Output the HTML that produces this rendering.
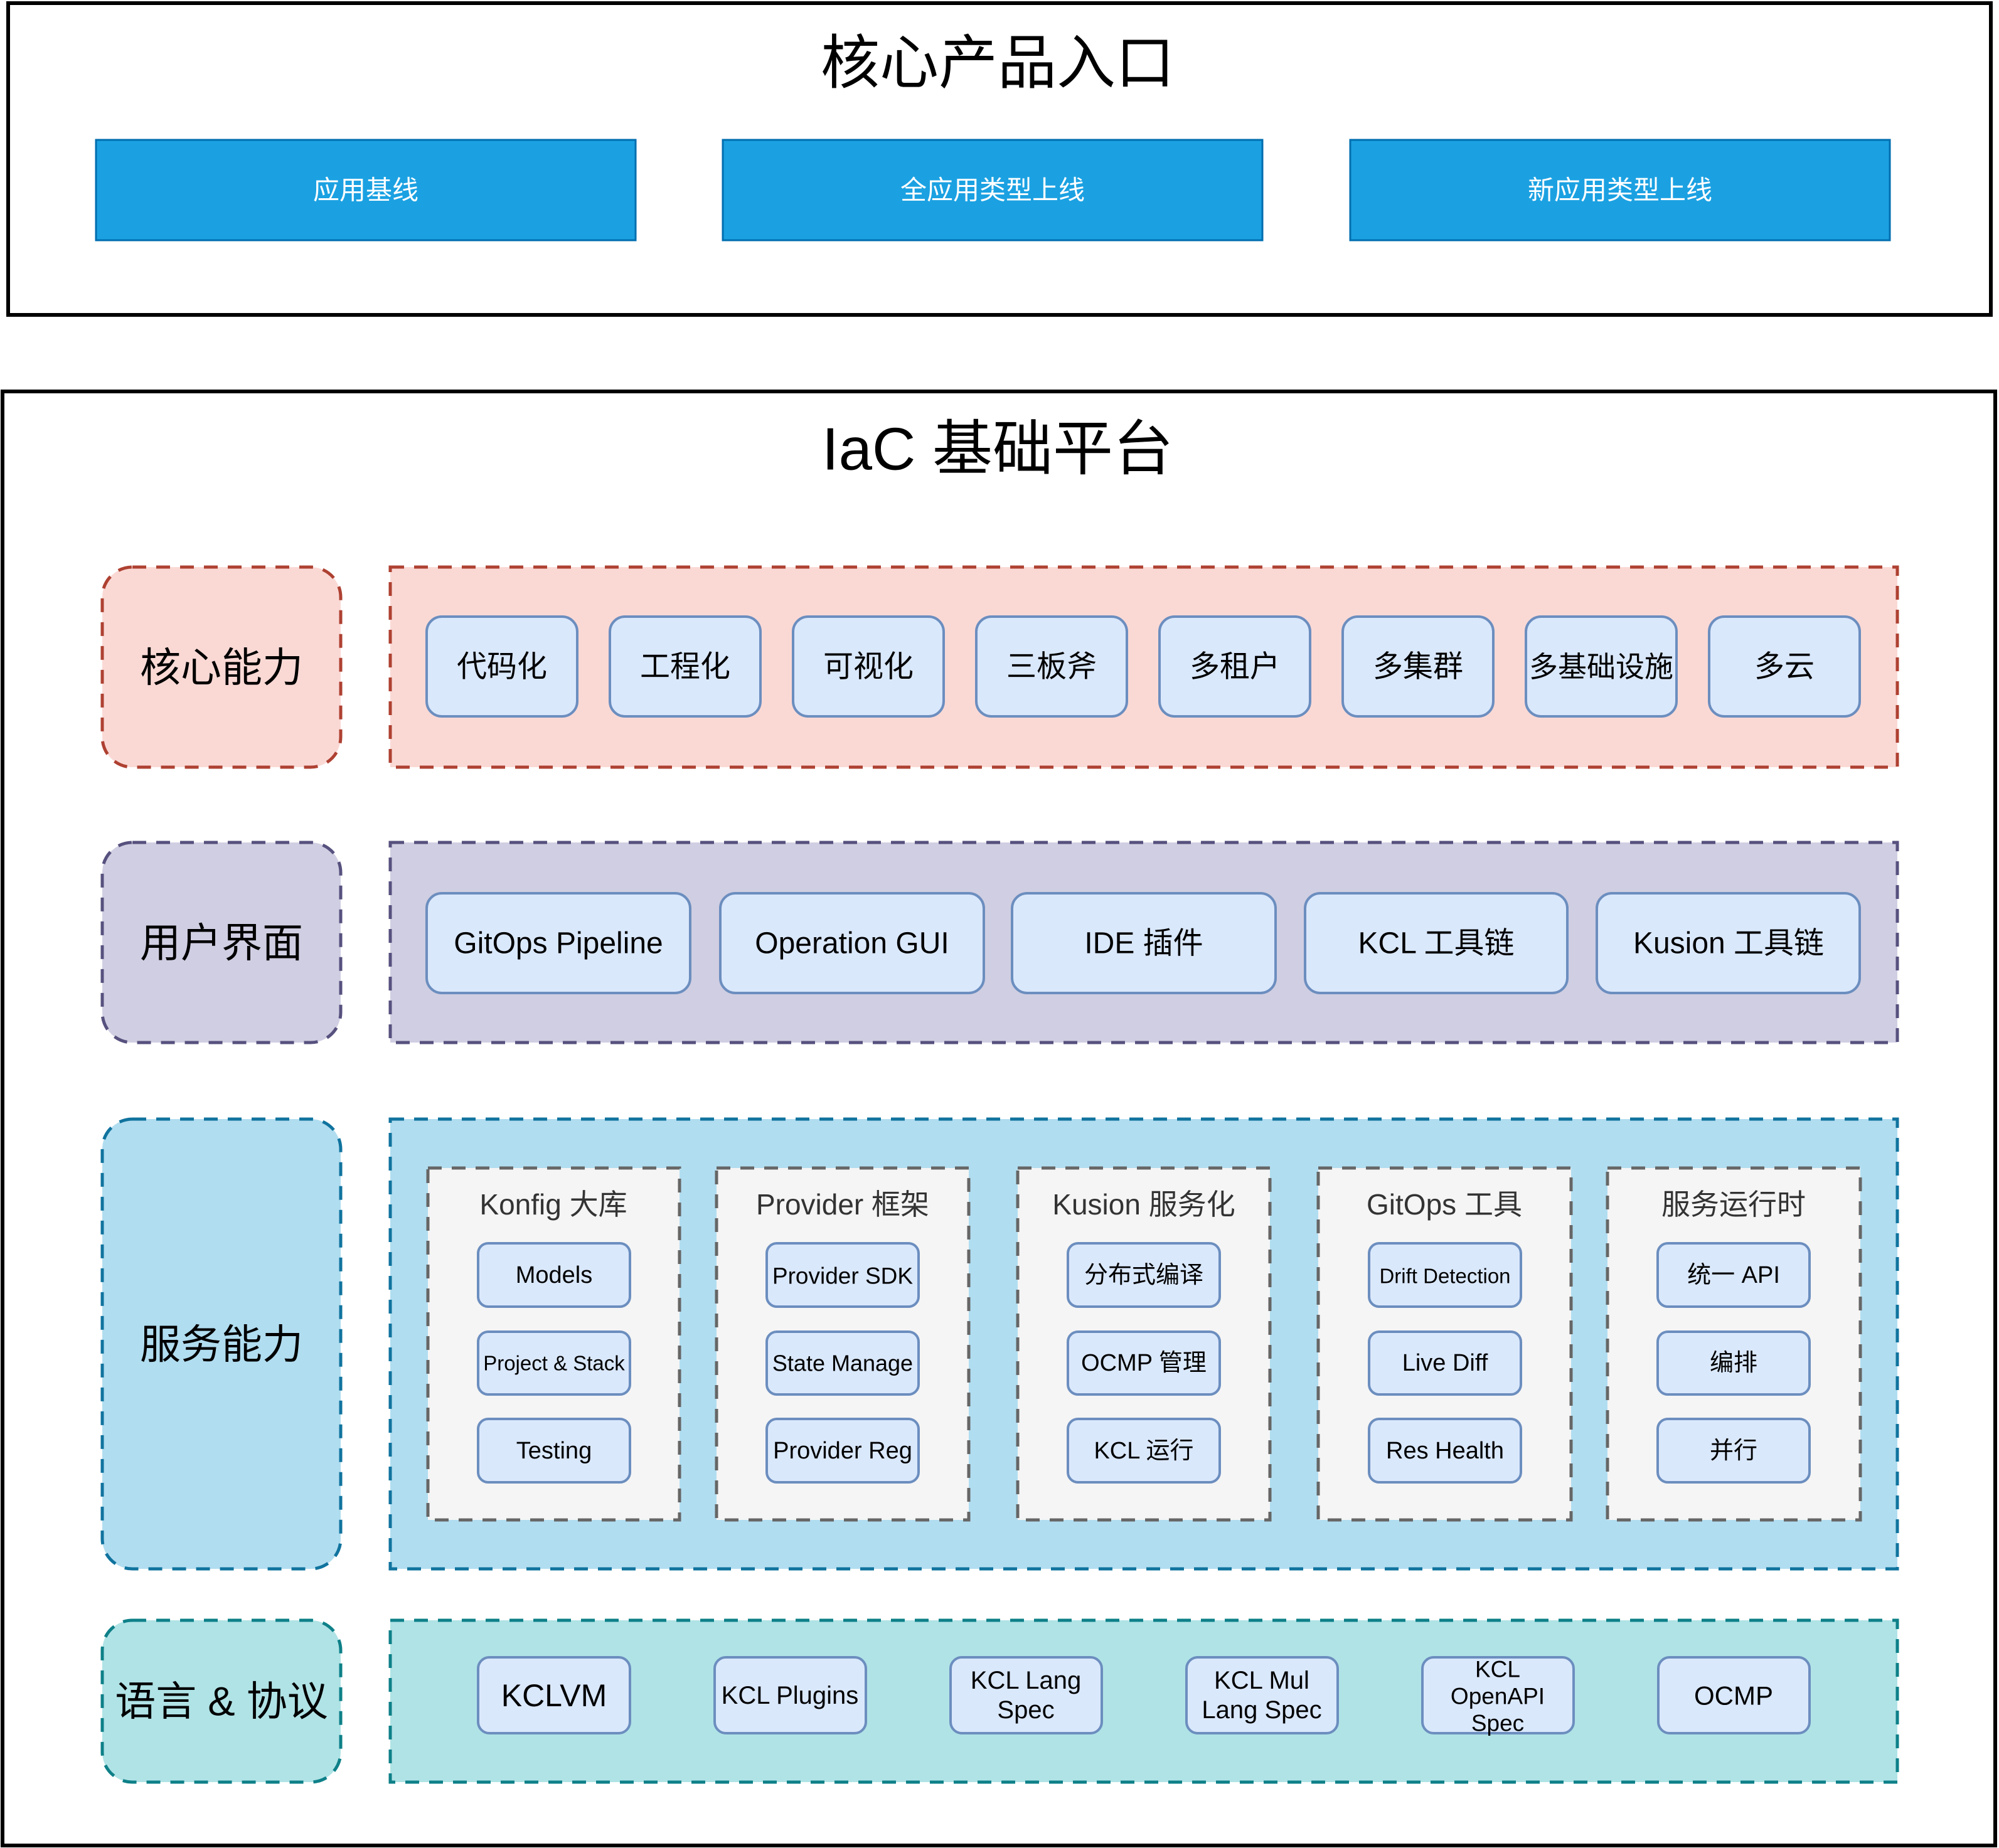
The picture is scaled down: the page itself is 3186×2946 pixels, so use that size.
<!DOCTYPE html>
<html><head><meta charset="utf-8"><style>
html,body{margin:0;padding:0;background:#fff;}
svg{display:block;}
text{font-family:"Liberation Sans","Noto Sans CJK SC",sans-serif;}
</style></head><body>
<svg width="3186" height="2946" viewBox="0 0 3186 2946" xmlns="http://www.w3.org/2000/svg">
<!-- top box -->
<rect x="13" y="5" width="3160" height="497" fill="#fff" stroke="#000" stroke-width="6"/>
<text x="1590" y="100" font-size="94" text-anchor="middle" dominant-baseline="central" fill="#000">核心产品入口</text>
<g fill="#1ba1e2" stroke="#006eaf" stroke-width="3">
<rect x="153" y="223" width="860" height="160"/>
<rect x="1152" y="223" width="860" height="160"/>
<rect x="2152" y="223" width="860" height="160"/>
</g>
<g font-size="42" fill="#fff" text-anchor="middle" dominant-baseline="central">
<text x="583" y="303">应用基线</text>
<text x="1582" y="303">全应用类型上线</text>
<text x="2582" y="303">新应用类型上线</text>
</g>
<!-- bottom box -->
<rect x="4" y="624" width="3176" height="2318" fill="#fff" stroke="#000" stroke-width="6"/>
<text x="1590" y="716" font-size="96" text-anchor="middle" dominant-baseline="central" fill="#000">IaC 基础平台</text>

<g stroke-width="5" stroke-dasharray="22 16">
<!-- core -->
<rect x="163" y="904" width="380" height="319" rx="48" fill="#fad9d5" stroke="#ae4132"/>
<rect x="622" y="904" width="2402" height="319" fill="#fad9d5" stroke="#ae4132"/>
<!-- ui -->
<rect x="163" y="1343" width="380" height="319" rx="48" fill="#d0cee2" stroke="#56517e"/>
<rect x="622" y="1343" width="2402" height="319" fill="#d0cee2" stroke="#56517e"/>
<!-- service -->
<rect x="163" y="1784" width="380" height="717" rx="48" fill="#b1ddf0" stroke="#10739e"/>
<rect x="622" y="1784" width="2402" height="717" fill="#b1ddf0" stroke="#10739e"/>
<!-- lang -->
<rect x="163" y="2583" width="380" height="258" rx="48" fill="#b0e3e6" stroke="#0e8088"/>
<rect x="622" y="2583" width="2402" height="258" fill="#b0e3e6" stroke="#0e8088"/>
</g>
<g font-size="65" fill="#000" text-anchor="middle" dominant-baseline="central">
<text x="353" y="1064">核心能力</text>
<text x="353" y="1503">用户界面</text>
<text x="353" y="2143">服务能力</text>
<text x="353" y="2712">语言 &amp; 协议</text>
</g>

<!-- core items -->
<g fill="#dae8fc" stroke="#6c8ebf" stroke-width="4">
<rect x="680" y="983" width="240" height="159" rx="24"/>
<rect x="972" y="983" width="240" height="159" rx="24"/>
<rect x="1264" y="983" width="240" height="159" rx="24"/>
<rect x="1556" y="983" width="240" height="159" rx="24"/>
<rect x="1848" y="983" width="240" height="159" rx="24"/>
<rect x="2140" y="983" width="240" height="159" rx="24"/>
<rect x="2432" y="983" width="240" height="159" rx="24"/>
<rect x="2724" y="983" width="240" height="159" rx="24"/>
</g>
<g font-size="48" fill="#000" text-anchor="middle" dominant-baseline="central">
<text x="800" y="1063">代码化</text>
<text x="1092" y="1063">工程化</text>
<text x="1384" y="1063">可视化</text>
<text x="1676" y="1063">三板斧</text>
<text x="1968" y="1063">多租户</text>
<text x="2260" y="1063">多集群</text>
<text x="2552" y="1063" font-size="46">多基础设施</text>
<text x="2844" y="1063">多云</text>
</g>

<!-- ui items -->
<g fill="#dae8fc" stroke="#6c8ebf" stroke-width="4">
<rect x="680" y="1424" width="420" height="159" rx="24"/>
<rect x="1148" y="1424" width="420" height="159" rx="24"/>
<rect x="1613" y="1424" width="420" height="159" rx="24"/>
<rect x="2080" y="1424" width="418" height="159" rx="24"/>
<rect x="2545" y="1424" width="419" height="159" rx="24"/>
</g>
<g font-size="48" fill="#000" text-anchor="middle" dominant-baseline="central">
<text x="890" y="1504">GitOps Pipeline</text>
<text x="1358" y="1504">Operation GUI</text>
<text x="1823" y="1504">IDE 插件</text>
<text x="2289" y="1504">KCL 工具链</text>
<text x="2755" y="1504">Kusion 工具链</text>
</g>

<!-- service groups -->
<g fill="#f5f5f5" stroke="#666666" stroke-width="5" stroke-dasharray="22 16">
<rect x="682" y="1862" width="401" height="561"/>
<rect x="1142" y="1862" width="402" height="561"/>
<rect x="1622" y="1862" width="402" height="561"/>
<rect x="2101" y="1862" width="403" height="561"/>
<rect x="2562" y="1862" width="403" height="561"/>
</g>
<g font-size="46" fill="#333" text-anchor="middle" dominant-baseline="central">
<text x="882" y="1920">Konfig 大库</text>
<text x="1343" y="1920">Provider 框架</text>
<text x="1823" y="1920">Kusion 服务化</text>
<text x="2302" y="1920">GitOps 工具</text>
<text x="2763" y="1920">服务运行时</text>
</g>
<g fill="#dae8fc" stroke="#6c8ebf" stroke-width="4">
<rect x="762" y="1982" width="242" height="101" rx="16"/>
<rect x="762" y="2123" width="242" height="100" rx="16"/>
<rect x="762" y="2262" width="242" height="101" rx="16"/>
<rect x="1222" y="1982" width="242" height="101" rx="16"/>
<rect x="1222" y="2123" width="242" height="100" rx="16"/>
<rect x="1222" y="2262" width="242" height="101" rx="16"/>
<rect x="1702" y="1982" width="242" height="101" rx="16"/>
<rect x="1702" y="2123" width="242" height="100" rx="16"/>
<rect x="1702" y="2262" width="242" height="101" rx="16"/>
<rect x="2182" y="1982" width="242" height="101" rx="16"/>
<rect x="2182" y="2123" width="242" height="100" rx="16"/>
<rect x="2182" y="2262" width="242" height="101" rx="16"/>
<rect x="2642" y="1982" width="242" height="101" rx="16"/>
<rect x="2642" y="2123" width="242" height="100" rx="16"/>
<rect x="2642" y="2262" width="242" height="101" rx="16"/>
</g>
<g font-size="38" fill="#000" text-anchor="middle" dominant-baseline="central">
<text x="883" y="2033">Models</text>
<text x="883" y="2173" font-size="33">Project &amp; Stack</text>
<text x="883" y="2313">Testing</text>
<text x="1343" y="2034" font-size="37">Provider SDK</text>
<text x="1343" y="2173" font-size="36">State Manage</text>
<text x="1343" y="2313" font-size="38">Provider Reg</text>
<text x="1823" y="2033">分布式编译</text>
<text x="1823" y="2173">OCMP 管理</text>
<text x="1823" y="2313">KCL 运行</text>
<text x="2303" y="2034" font-size="33">Drift Detection</text>
<text x="2303" y="2173">Live Diff</text>
<text x="2303" y="2313">Res Health</text>
<text x="2763" y="2033">统一 API</text>
<text x="2763" y="2173">编排</text>
<text x="2763" y="2313">并行</text>
</g>

<!-- lang items -->
<g fill="#dae8fc" stroke="#6c8ebf" stroke-width="4">
<rect x="762" y="2642" width="242" height="121" rx="18"/>
<rect x="1139" y="2642" width="241" height="121" rx="18"/>
<rect x="1515" y="2642" width="241" height="121" rx="18"/>
<rect x="1891" y="2642" width="241" height="121" rx="18"/>
<rect x="2267" y="2642" width="241" height="121" rx="18"/>
<rect x="2643" y="2642" width="241" height="121" rx="18"/>
</g>
<g font-size="40" fill="#000" text-anchor="middle" dominant-baseline="central">
<text x="883" y="2703" font-size="50">KCLVM</text>
<text x="1259" y="2703">KCL Plugins</text>
<text x="1635" y="2679">KCL Lang</text>
<text x="1635" y="2726">Spec</text>
<text x="2011" y="2679">KCL Mul</text>
<text x="2011" y="2726">Lang Spec</text>
<text x="2387" y="2661" font-size="37">KCL</text>
<text x="2387" y="2704" font-size="37">OpenAPI</text>
<text x="2387" y="2747" font-size="37">Spec</text>
<text x="2763" y="2703" font-size="42">OCMP</text>
</g>
</svg>
</body></html>
